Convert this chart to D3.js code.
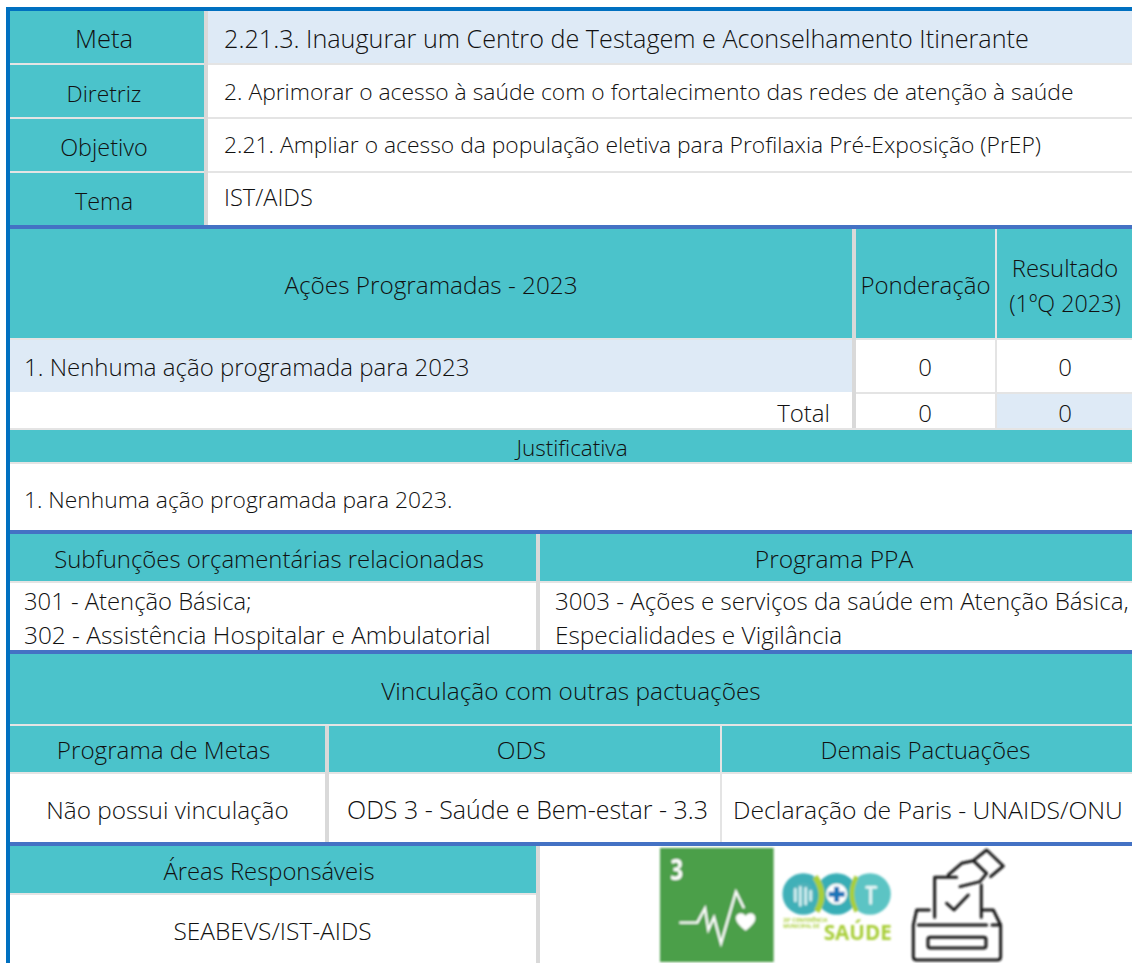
<!DOCTYPE html>
<html>
<head>
<meta charset="utf-8">
<script src="https://cdn.jsdelivr.net/npm/d3@7"></script>
<style>
  html, body { margin: 0; padding: 0; background: #fff; overflow: hidden; }
  text { font-family: "Open Sans", "Noto Sans", sans-serif; font-weight: 300; fill: #111; }
</style>
</head>
<body>
<div id="chart"></div>
<script>
// table contents
const metaLabels = ["Meta", "Diretriz", "Objetivo", "Tema"]
const metaValues = [
  "2.21.3. Inaugurar um Centro de Testagem e Aconselhamento Itinerante",
  "2. Aprimorar o acesso à saúde com o fortalecimento das redes de atenção à saúde",
  "2.21. Ampliar o acesso da população eletiva para Profilaxia Pré-Exposição (PrEP)",
  "IST/AIDS"
]
const acoesHeader = ["Ações Programadas - 2023", "Ponderação", ["Resultado", "(1ºQ 2023)"]]
const acoesRow = ["1. Nenhuma ação programada para 2023", "0", "0"]
const totalRow = ["Total", "0", "0"]
const justificativaTitle = "Justificativa"
const justificativaText = "1. Nenhuma ação programada para 2023."
const orcamentoHeader = ["Subfunções orçamentárias relacionadas", "Programa PPA"]
const subfuncoes = ["301 - Atenção Básica;", "302 - Assistência Hospitalar e Ambulatorial"]
const programaPPA = ["3003 - Ações e serviços da saúde em Atenção Básica,", "Especialidades e Vigilância"]
const vinculacaoTitle = "Vinculação com outras pactuações"
const vinculacaoHeader = ["Programa de Metas", "ODS", "Demais Pactuações"]
const vinculacaoValues = ["Não possui vinculação", "ODS 3 - Saúde e Bem-estar - 3.3", "Declaração de Paris - UNAIDS/ONU"]
const areasTitle = "Áreas Responsáveis"
const areasValue = "SEABEVS/IST-AIDS"

const width = 1132, height = 963
const TEAL = "#4bc3cb", LIGHT = "#deeaf6", SEP = "#e4e4e4", GRAY = "#d9d9d9", BLUE = "#4472c4", EDGE = "#0070c0"
const L = 10, R = 1132

const svg = d3.select("#chart").append("svg")
  .attr("width", width)
  .attr("height", height)
  .style("display", "block")

const rects = []
const labels = []
const box = (x0, y0, x1, y1, fill) => rects.push({x0, y0, x1, y1, fill})
const label = (text, x, y, size, anchor = "middle") => labels.push({text, x, y, size, anchor})

// meta block
const metaY = d3.scaleBand().domain(metaLabels).range([11, 227]).paddingInner(0)
const metaLabelSize = [25.5, 22.8, 23.4, 23.4]
const metaValueSize = [25.2, 22.85, 22.85, 23.6]
const metaLabelBase = [48, 101.5, 155.5, 209.5]
const metaValueBase = [48, 100, 153, 206]
metaLabels.forEach((d, i) => {
  const y = metaY(d), h = metaY.bandwidth()
  box(L, y, 204, y + h - 2, TEAL)
  box(208, y, R, y + h - 2, i == 0 ? LIGHT : "#fff")
  box(208, y + h - 2, R, y + h, SEP)
  box(L, y + h - 2, 204, y + h, SEP)
  label(d, 104, metaLabelBase[i], metaLabelSize[i])
  label(metaValues[i], 224, metaValueBase[i], metaValueSize[i], "start")
})
box(204, 11, 208, 225, GRAY)

// acoes block
box(L, 229, 852, 338, TEAL)
box(856, 229, 995, 338, TEAL)
box(997, 229, R, 338, TEAL)
box(L, 338, R, 340, SEP)
box(L, 340, 852, 392, LIGHT)
box(L, 428, R, 430, SEP)
box(856, 392, R, 394, SEP)
box(852, 229, 856, 428, GRAY)
box(995, 229, 997, 428, SEP)
box(997, 394, R, 428, LIGHT)
label(acoesHeader[0], 431, 294, 24.3)
label(acoesHeader[1], 925.5, 294, 24)
label(acoesHeader[2][0], 1065, 277, 23.8)
label(acoesHeader[2][1], 1065, 312, 23.3)
label(acoesRow[0], 24, 376, 24, "start")
label(acoesRow[1], 925, 376, 24)
label(acoesRow[2], 1065, 376, 24)
label(totalRow[0], 830, 422, 24, "end")
label(totalRow[1], 925, 422, 24)
label(totalRow[2], 1065, 422, 24)

// justificativa
box(L, 430, R, 462, TEAL)
box(L, 462, R, 464, SEP)
label(justificativaTitle, 572, 456, 22.5)
label(justificativaText, 24, 508, 22.8, "start")

// orcamento
box(L, 534, 536, 581, TEAL)
box(540, 534, R, 581, TEAL)
box(L, 581, R, 583, SEP)
box(536, 534, 540, 650, GRAY)
label(orcamentoHeader[0], 269, 568, 23.9)
label(orcamentoHeader[1], 834, 568, 24.6)
const subfuncoesSize = [23.8, 24.4]
const programaSize = [24.1, 24.4]
subfuncoes.forEach((d, i) => label(d, 24, 610 + i * 34, subfuncoesSize[i], "start"))
programaPPA.forEach((d, i) => label(d, 555, 610 + i * 34, programaSize[i], "start"))

// vinculacao
box(L, 654, R, 724, TEAL)
box(L, 724, R, 726, SEP)
box(L, 726, R, 772, TEAL)
box(L, 772, R, 774, SEP)
box(325, 726, 329, 846, GRAY)
box(720, 726, 722, 842, SEP)
label(vinculacaoTitle, 571, 700, 24.4)
const vinculacaoX = [163.5, 521.5, 925.5]
const vinculacaoSize = [24.2, 24.5, 24]
const vinculacaoValX = [167.5, 527.5, 928]
const vinculacaoValSize = [24.3, 25, 24.7]
vinculacaoHeader.forEach((d, i) => label(d, vinculacaoX[i], 759, vinculacaoSize[i]))
vinculacaoValues.forEach((d, i) => label(d, vinculacaoValX[i], 819, vinculacaoValSize[i]))

// areas
box(L, 846, 536, 893, TEAL)
box(L, 893, 536, 895, SEP)
box(536, 846, 540, 963, GRAY)
label(areasTitle, 269, 880, 23.8)
label(areasValue, 272.5, 940, 24.5)

// page frame
const bands = [225, 530, 650, 842]
bands.forEach(y => box(L, y, R, y + 4, BLUE))
box(6, 7, R, 11, EDGE)
box(6, 7, 10, height, EDGE)

svg.append("g").selectAll("rect")
  .data(rects)
  .join("rect")
    .attr("x", d => d.x0)
    .attr("y", d => d.y0)
    .attr("width", d => d.x1 - d.x0)
    .attr("height", d => d.y1 - d.y0)
    .attr("fill", d => d.fill)

svg.append("g").selectAll("text")
  .data(labels)
  .join("text")
    .attr("x", d => d.x)
    .attr("y", d => d.y)
    .attr("text-anchor", d => d.anchor)
    .attr("font-size", d => d.size)
    .text(d => d.text)

svg.append("defs").append("filter").attr("id", "soft")
  .append("feGaussianBlur").attr("stdDeviation", 2.4)
const icons = svg.append("g")
  .attr("transform", "translate(640,830) scale(0.3333)")
  .attr("filter", "url(#soft)")

// SDG 3
icons.append("rect").attr("x", 60).attr("y", 54).attr("width", 341).attr("height", 342).attr("fill", "#4c9f48")
icons.append("text").attr("x", 110).attr("y", 150).attr("text-anchor", "middle")
  .attr("font-size", 84).style("font-weight", 700).style("fill", "#fff")
  .attr("transform", "translate(22,0) scale(0.8,1)")
  .text("3")
icons.append("path")
  .attr("d", "M118,278H172L195,235L205,300L222,262L243,340L288,185L312,235")
  .attr("fill", "none").attr("stroke", "#fff").attr("stroke-width", 7)
icons.append("path")
  .attr("d", "M317,302C300,288 288,278 288,264C288,250 308,244 317,258C326,244 346,250 346,264C346,278 334,288 317,302Z")
  .attr("fill", "#fff")

// conferencia logo
const ringX = [490, 590, 690]
const rings = d3.scaleOrdinal().domain(ringX).range(["#3fb0b8", "#38aeb6", "#5cc4c4"])
icons.selectAll("circle.ring")
  .data(ringX)
  .join("circle")
    .attr("class", "ring")
    .attr("cx", d => d)
    .attr("cy", 192)
    .attr("r", 47)
    .attr("fill", "#fff")
    .attr("stroke", d => rings(d))
    .attr("stroke-width", 31)
icons.append("path").attr("d", "M525,140Q562,192 530,244").attr("fill", "none").attr("stroke", "#a9cf3a").attr("stroke-width", 18)
icons.append("path").attr("d", "M650,140Q622,192 650,244").attr("fill", "none").attr("stroke", "#a9cf3a").attr("stroke-width", 14)
icons.append("path").attr("d", "M590,170V216M566,193H614").attr("stroke", "#1c74b8").attr("stroke-width", 15)
icons.append("circle").attr("cx", 490).attr("cy", 192).attr("r", 34).attr("fill", "#4fb2ba")
icons.append("path").attr("d", "M466,178V212M481,172V226M497,175V222M512,184V210").attr("stroke", "#cfeef0").attr("stroke-width", 9).attr("stroke-linecap", "round")
icons.append("circle").attr("cx", 690).attr("cy", 192).attr("r", 34).attr("fill", "#5cc4c4")
icons.append("path").attr("d", "M680,172H708M692,172V220").attr("fill", "none").attr("stroke", "#e4f5f5").attr("stroke-width", 9).attr("stroke-linecap", "round")
icons.append("text").attr("x", 430).attr("y", 276).attr("font-size", 15).style("font-weight", 700).style("fill", "#a9cf3a").text("20ª CONFERÊNCIA")
icons.append("text").attr("x", 430).attr("y", 294).attr("font-size", 15).style("font-weight", 700).style("fill", "#a9cf3a").text("MUNICIPAL DE")
icons.append("text").attr("x", 551).attr("y", 331).attr("font-size", 62).style("font-weight", 700).style("fill", "#a9cf3a").text("SAÚDE")

// ballot box
const ballot = icons.append("g").attr("fill", "none").attr("stroke", "#1a1a1a").attr("stroke-width", 9)
  .attr("stroke-linejoin", "round").attr("stroke-linecap", "round")
ballot.append("path").attr("d", "M884,262V142H950M1024,165V262")
ballot.append("path").attr("d", "M925,135L965,100L1000,92L1040,130L1020,155L960,170")
ballot.append("path").attr("d", "M1000,92L1040,60L1090,108L1052,140")
ballot.append("path").attr("d", "M920,220L942,240L985,195")
ballot.append("path").attr("d", "M868,240H830L820,285V380Q820,390 830,390H1072Q1082,390 1082,380V285L1060,240H1030")
ballot.append("path").attr("d", "M835,285H1040M1056,285H1078")
ballot.append("rect").attr("x", 864).attr("y", 322).attr("width", 174).attr("height", 32).attr("rx", 6)
</script>
</body>
</html>
